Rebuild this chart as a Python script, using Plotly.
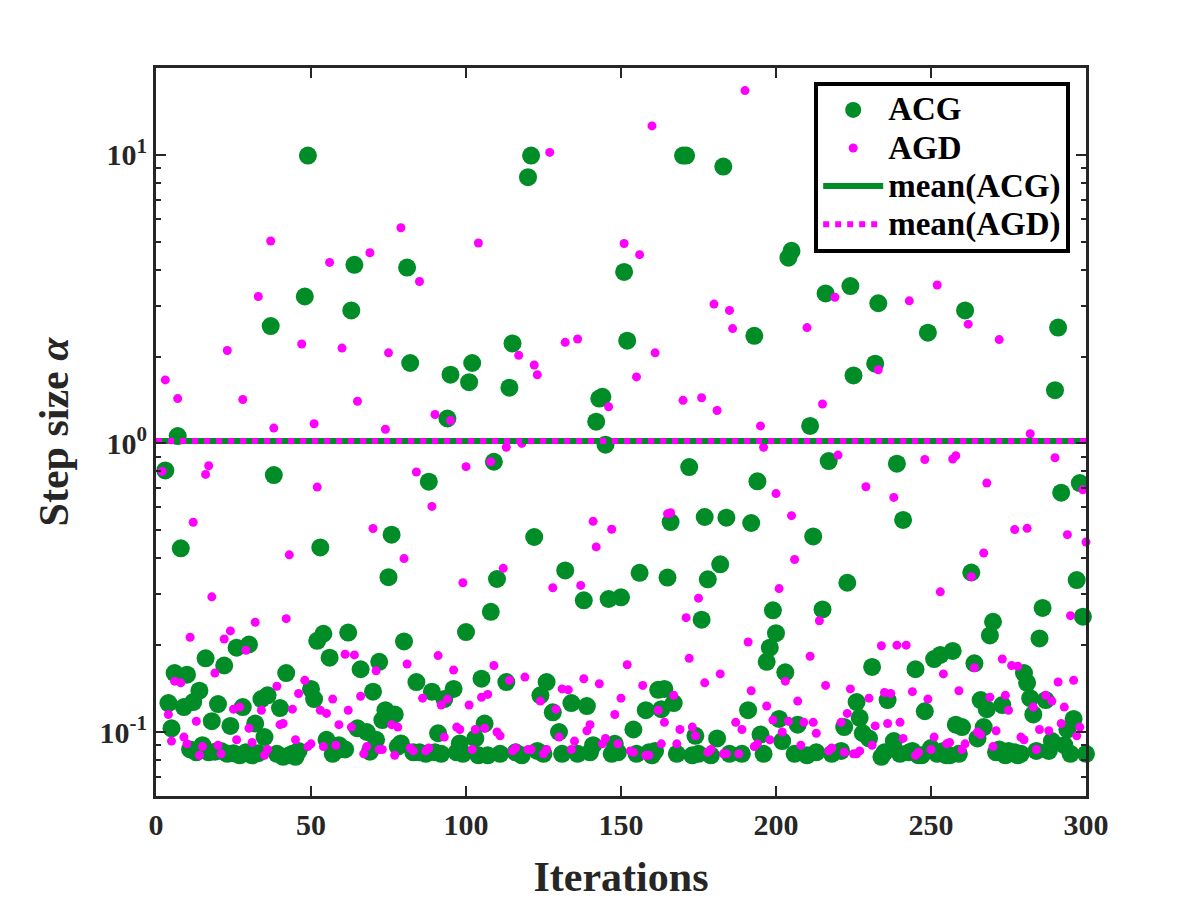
import plotly.graph_objects as go

# ── Data ──────────────────────────────────────────────────────────────────────

iterations = list(range(1, 301))

# step size of ACG per iteration (None = hidden / not readable)
acg_step = [
    None, None, 0.806, 0.126, 0.103, 0.16, 1.06, 0.433, 0.122, 0.158,
    0.087, 0.127, 0.085, 0.139, 0.090, 0.18, 0.085, 0.109, 0.0855, 0.125,
    0.086, 0.17, 0.084, 0.105, 0.0844, 0.196, 0.083, 0.122, 0.085, 0.201,
    0.083, 0.107, 0.0844, 0.13, 0.096, 0.134, 2.55, 0.777, 0.084, 0.121,
    0.082, 0.16, 0.083, 0.084, 0.082, 0.086, None, 3.23, 9.94, 0.141,
    0.13, 0.207, 0.436, 0.219, 0.094, 0.181, 0.084, 0.086, 0.09, 0.088,
    0.087, 0.221, 2.89, 4.16, 0.103, 0.165, None, 0.1, 0.0855, 0.138,
    0.094, 0.175, 0.110, 0.119, 0.344, 0.483, 0.115, 0.089, 0.0913, 0.206,
    4.07, 1.90, 0.085, 0.149, 0.085, None, 0.084, 0.737, 0.138, 0.085,
    0.099, 0.084, 0.13, 1.22, 1.73, 0.141, 0.085, 0.0913, 0.084, 0.222,
    1.63, 1.90, 0.095, 0.083, 0.153, 0.107, 0.083, 0.261, 0.864, 0.339,
    0.084, None, 0.149, 1.56, 2.22, 0.085, None, 0.083, None, 8.37,
    9.94, 0.474, 0.086, 0.134, 0.084, 0.149, None, 0.117, None, 0.1,
    0.084, 0.363, None, 0.126, None, 0.084, None, 0.286, 0.123, 0.085,
    0.09, 1.19, 1.43, 1.45, 0.99, 0.289, 0.084, 0.091, 0.085, 0.293,
    3.93, 2.27, None, 0.102, 0.084, 0.356, None, 0.119, 0.085, 0.083,
    0.086, 0.14, 0.12, 0.141, 0.343, 0.534, 0.126, 0.084, None, 9.94,
    9.94, 0.828, 0.083, 0.097, 0.084, 0.245, 0.556, 0.338, 0.083, None,
    0.095, 0.381, 9.11, 0.553, 0.084, None, None, None, 0.084, None,
    0.119, 0.53, 2.36, 0.739, 0.098, 0.084, 0.175, 0.196, 0.264, 0.22,
    0.111, 0.093, 0.161, 4.40, 4.65, 0.084, 0.106, None, None, 0.083,
    1.15, 0.476, 0.085, None, 0.266, 3.31, 0.869, 0.084, None, None,
    0.086, 0.104, 0.329, 3.51, 1.72, 0.127, 0.112, 0.099, None, 0.095,
    0.168, 1.89, 3.06, 0.082, 0.085, 0.129, None, 0.093, 0.851, 0.084,
    0.543, None, 0.085, 0.086, 0.165, 0.083, 0.083, 0.118, 2.42, 0.088,
    0.179, 0.084, 0.185, 0.086, 0.083, 0.083, 0.191, 0.106, 0.084, 0.104,
    2.89, None, 0.357, 0.173, 0.095, 0.129, 0.104, 0.12, 0.216, 0.241,
    0.085, 0.087, 0.124, 0.083, 0.086, None, 0.085, 0.083, 0.084, 0.16,
    0.148, 0.131, 0.115, 0.086, 0.211, 0.269, 0.129, 0.086, 0.093, 1.53,
    2.52, 0.675, 0.09, 0.102, 0.084, 0.111, 0.336, 0.729, 0.251, 0.084,
]

# step size of AGD per iteration
agd_step = [
    None, 0.80, 1.66, 0.115, 0.093, 0.150, 1.43, 0.148, 0.096, 0.091,
    0.213, 0.533, 0.109, 0.083, 0.089, 0.781, 0.837, 0.294, 0.160, 0.090,
    0.084, 0.21, 2.10, 0.224, 0.12, 0.094, 0.122, 1.42, 0.192, 0.103,
    0.092, 0.24, 3.23, 0.119, 0.083, 0.087, 5.03, 1.13, 0.144, 0.106,
    0.107, 0.247, 0.411, 0.12, 0.094, 0.136, 2.21, 0.151, 0.089, 0.091,
    1.17, 0.706, 0.119, 0.089, 0.116, 4.24, 0.13, 0.090, 0.106, 2.14,
    0.186, 0.119, 0.104, 0.185, 1.40, 0.133, 0.084, 0.089, 4.58, 0.507,
    0.163, 0.087, 0.087, 1.12, 2.06, 0.106, 0.083, 0.104, 5.59, 0.399,
    0.172, 0.088, 0.086, 0.796, 3.64, 0.131, 0.086, 0.088, 0.605, 1.26,
    0.184, 0.124, 0.096, 0.13, 1.20, 0.164, 0.104, 0.102, 0.329, 0.831,
    0.124, 0.087, 0.102, 4.95, 0.132, 0.103, 0.135, 0.864, 0.17, 0.10,
    0.097, 0.369, 0.97, 0.151, 0.086, 0.088, 2.02, 1.0, 0.155, 0.087,
    0.087, 1.87, 1.73, 0.128, 0.084, 0.087, 10.2, 0.316, 0.12, 0.096,
    0.141, 2.24, 0.14, 0.087, 0.093, 2.30, 0.322, 0.153, 0.101, 0.106,
    0.537, 0.438, 0.147, 0.091, 0.095, 1.34, 0.504, 0.115, 0.091, 0.131,
    4.93, 0.171, 0.086, 0.085, 1.70, 4.51, 0.145, 0.083, 0.083, 12.6,
    2.06, 0.119, 0.091, 0.108, 0.57, 0.575, 0.134, 0.091, 0.102, 1.41,
    0.249, 0.18, 0.104, 0.097, 0.291, 1.44, 0.148, 0.085, 0.087, 3.04,
    1.30, 0.159, 0.084, 0.084, 2.89, 2.50, 0.108, 0.084, 0.102, 16.7,
    0.205, 0.139, 0.089, 0.091, 1.15, 0.97, 0.123, 0.094, 0.11, 0.67,
    0.314, 0.10, 0.150, 0.109, 0.562, 0.396, 0.128, 0.090, 0.108, 2.52,
    0.183, 0.108, 0.099, 0.243, 1.37, 0.145, 0.086, 0.088, 3.21, 0.911,
    0.108, 0.085, 0.116, 0.141, 0.084, 0.084, 0.086, None, 0.708, 0.131,
    0.090, 0.105, 1.80, 0.199, 0.137, 0.107, 0.136, 0.65, 0.2, 0.108,
    0.095, 0.2, 3.12, 0.138, 0.083, 0.085, None, 0.88, 0.130, 0.087,
    0.096, 3.54, 0.306, 0.159, 0.091, 0.092, 0.883, 0.906, 0.139, 0.087,
    0.091, 2.59, 0.345, 0.167, 0.10, 0.098, 0.417, 0.729, 0.132, 0.089,
    0.101, 2.29, 0.179, 0.134, 0.119, 0.17, 0.503, 0.169, 0.096, 0.094,
    0.508, 1.08, 0.122, 0.087, 0.102, None, 0.134, 0.101, 0.128, 0.892,
    0.149, 0.107, 0.122, 0.483, 0.253, 0.151, 0.097, 0.104, 0.691, 0.455,
]

mean_acg = 1.02
mean_agd = 1.02

x_limits = [0, 300]
x_ticks = [0, 50, 100, 150, 200, 250, 300]
y_ticks = [0.1, 1, 10]
y_tick_text = ["10<sup>-1</sup>", "10<sup>0</sup>", "10<sup>1</sup>"]
y_minor = [0.06, 0.07, 0.08, 0.09, 0.2, 0.3, 0.4, 0.5, 0.6, 0.7, 0.8, 0.9,
           2, 3, 4, 5, 6, 7, 8, 9]

# ── Style ─────────────────────────────────────────────────────────────────────

VERDE = "#008C26"
MAGENTA = "#FF00FF"
EIXO = "#262626"
FONTE = "Liberation Serif, Times New Roman, serif"


def rotulo(texto):
    # legend text drawn larger than the legend font, to keep the rows tight
    return f'<span style="font-size:33px">{texto}</span>'


fig = go.Figure()

fig.add_trace(go.Scatter(
    x=iterations, y=acg_step, mode="markers", name=rotulo("ACG"),
    marker=dict(color=VERDE, size=18, line=dict(width=0)),
    cliponaxis=False,
))
fig.add_trace(go.Scatter(
    x=iterations, y=agd_step, mode="markers", name=rotulo("AGD"),
    marker=dict(color=MAGENTA, size=9, line=dict(width=0)),
    cliponaxis=False,
))
fig.add_trace(go.Scatter(
    x=x_limits, y=[mean_acg, mean_acg], mode="lines", name=rotulo("mean(ACG)"),
    line=dict(color=VERDE, width=6),
))
fig.add_trace(go.Scatter(
    x=x_limits, y=[mean_agd, mean_agd], mode="lines", name=rotulo("mean(AGD)"),
    line=dict(color=MAGENTA, width=6, dash="dot"),
))

eixo_comum = dict(
    showline=True, linewidth=3, linecolor=EIXO, mirror="allticks",
    ticks="inside", ticklen=10, tickwidth=2, tickcolor=EIXO,
    showgrid=False, zeroline=False,
    tickfont=dict(family=FONTE, size=30, color=EIXO, weight="bold"),
)

fig.update_xaxes(
    range=x_limits, tickmode="array", tickvals=x_ticks,
    title=dict(text="Iterations", standoff=22,
               font=dict(family=FONTE, size=42, color=EIXO, weight="bold")),
    **eixo_comum,
)
fig.update_yaxes(
    type="log", range=[-1.2218, 1.301],
    tickmode="array", tickvals=y_ticks, ticktext=y_tick_text,
    minor=dict(tickmode="array", tickvals=y_minor, ticks="inside",
               ticklen=5, tickwidth=2, tickcolor=EIXO, showgrid=False),
    title=dict(text="Step size <i>α</i>", standoff=18,
               font=dict(family=FONTE, size=42, color=EIXO, weight="bold")),
    **eixo_comum,
)

# the page body adds 8 px, so margins are shifted to keep the axes in place
fig.update_layout(
    width=1200, height=900,
    margin=dict(l=148, r=122, t=60, b=112),
    plot_bgcolor="white", paper_bgcolor="white",
    font=dict(family=FONTE),
    legend=dict(
        x=0.983, y=0.981, xanchor="right", yanchor="top",
        bgcolor="white", bordercolor="black", borderwidth=4,
        font=dict(family=FONTE, size=27, color="black", weight="bold"),
        itemwidth=60, tracegroupgap=0,
    ),
)

fig.write_html("out.html")
